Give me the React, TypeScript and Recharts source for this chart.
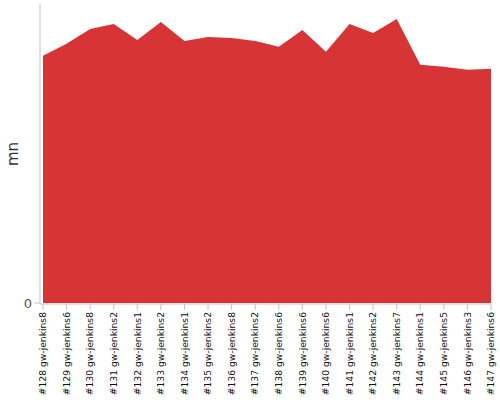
import React from 'react';
import { AreaChart, Area, XAxis, YAxis, Label } from 'recharts';

const builds = [
  '#128 gw-jenkins8',
  '#129 gw-jenkins6',
  '#130 gw-jenkins8',
  '#131 gw-jenkins2',
  '#132 gw-jenkins1',
  '#133 gw-jenkins2',
  '#134 gw-jenkins1',
  '#135 gw-jenkins2',
  '#136 gw-jenkins8',
  '#137 gw-jenkins2',
  '#138 gw-jenkins6',
  '#139 gw-jenkins6',
  '#140 gw-jenkins6',
  '#141 gw-jenkins1',
  '#142 gw-jenkins2',
  '#143 gw-jenkins7',
  '#144 gw-jenkins1',
  '#145 gw-jenkins5',
  '#146 gw-jenkins3',
  '#147 gw-jenkins6',
];

const durations = [248, 260, 275, 280, 264, 282, 263, 267, 266, 263, 257, 274, 252, 280, 271, 285, 239, 237, 234, 235];

const yTicks = [0];
const yMax = 300;

const data = builds.map((b, i) => ({ build: b, value: durations[i] }));

const AXIS_COLOR = '#c4c4c4';
const FILL = '#d73535';

const XTick = (props: any) => {
  const { x, y, payload } = props;
  return (
    <g transform={`translate(${x},${y})`}>
      <text
        transform="rotate(-90)"
        x={0}
        y={0}
        dy="0.35em"
        textAnchor="end"
        fontSize={9.2}
        fontFamily="DejaVu Sans"
        fill="#111"
      >
        {payload.value}
      </text>
    </g>
  );
};

const YLabel = (props: any) => {
  const vb = props.viewBox || { x: 0, y: 0, width: 40, height: 300 };
  const cx = vb.x + 13;
  const cy = vb.y + vb.height / 2;
  return (
    <text
      x={cx}
      y={cy}
      transform={`rotate(-90 ${cx} ${cy})`}
      textAnchor="middle"
      dominantBaseline="central"
      fontSize={15}
      fontFamily="DejaVu Sans"
      fill="#333"
    >
      mn
    </text>
  );
};

export default function App() {
  return (
    <div style={{ position: 'absolute', left: 0, top: 0, width: 500, height: 400 }}>
      <AreaChart width={500} height={400} data={data} margin={{ top: 4, right: 9, left: 0, bottom: 0 }}>
        <XAxis
          dataKey="build"
          interval={0}
          height={96}
          padding={{ left: 3, right: 0 }}
          tick={<XTick />}
          tickSize={6}
          tickMargin={2}
          axisLine={{ stroke: AXIS_COLOR }}
          tickLine={{ stroke: AXIS_COLOR }}
        />
        <YAxis
          width={40}
          domain={[0, yMax]}
          ticks={yTicks}
          padding={{ top: 0, bottom: 1 }}
          axisLine={{ stroke: AXIS_COLOR }}
          tickLine={{ stroke: AXIS_COLOR }}
          tick={{ fontSize: 13, fill: '#555', fontFamily: 'DejaVu Sans' }}
        >
          <Label content={<YLabel />} />
        </YAxis>
        <Area
          type="linear"
          dataKey="value"
          stroke="none"
          fill={FILL}
          fillOpacity={1}
          isAnimationActive={false}
        />
      </AreaChart>
    </div>
  );
}
